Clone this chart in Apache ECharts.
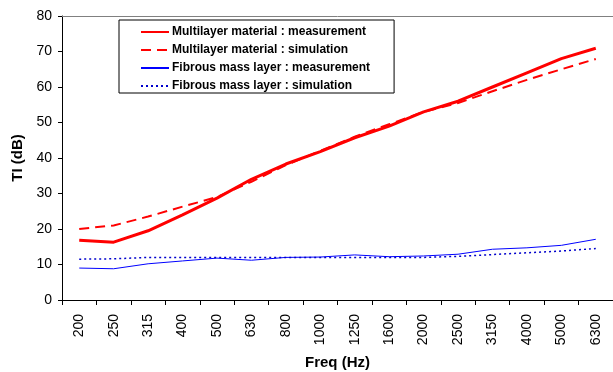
<!DOCTYPE html>
<html>
<head>
<meta charset="utf-8">
<script src="https://cdn.jsdelivr.net/npm/echarts@6/dist/echarts.min.js"></script>
<style>
  html, body { margin: 0; padding: 0; background: #fff; }
  #chart { width: 613px; height: 372px; }
</style>
</head>
<body>
<div id="chart"></div>
<script>
// frequency bands (Hz)
var freqs = ["200", "250", "315", "400", "500", "630", "800", "1000", "1250",
  "1600", "2000", "2500", "3150", "4000", "5000", "6300"];
// TI values (dB)
var multiMeas = [16.8, 16.3, 19.5, 24.0, 28.7, 34.0, 38.3, 41.8, 45.7, 49.0, 53.0, 56.0, 60.0, 64.0, 68.0, 70.9];
var multiSim = [20.0, 21.0, 23.5, 26.3, 29.0, 33.3, 38.0, 42.0, 46.0, 49.5, 53.0, 55.5, 58.8, 62.0, 65.0, 67.9];
var fibMeas = [9.0, 8.8, 10.2, 11.0, 11.8, 11.2, 12.0, 12.1, 12.7, 12.2, 12.4, 12.9, 14.3, 14.7, 15.4, 17.1];
var fibSim = [11.5, 11.6, 12.0, 12.0, 12.0, 12.0, 12.0, 12.0, 12.0, 12.0, 12.0, 12.3, 12.8, 13.3, 13.8, 14.5];
var yTicks = [0, 10, 20, 30, 40, 50, 60, 70, 80];

var font = "Arial, 'Liberation Sans', sans-serif";
var chart = echarts.init(document.getElementById("chart"));

chart.setOption({
  animation: false,
  textStyle: { fontFamily: font },
  grid: { left: 62, right: 0, top: 16, bottom: 72, outerBoundsMode: "none", containLabel: false },
  legend: {
    orient: "vertical",
    left: 119,
    top: 20,
    padding: [6, 24, 1, 21],
    itemGap: 6,
    itemWidth: 28,
    itemHeight: 14,
    borderColor: "#000",
    borderWidth: 1,
    itemStyle: { opacity: 0 },
    textStyle: { fontFamily: font, fontSize: 12, fontWeight: "bold", color: "#000", padding: [0, 0, 0, -2] },
    data: [
      "Multilayer material : measurement",
      "Multilayer material : simulation",
      "Fibrous mass layer : measurement",
      "Fibrous mass layer : simulation"
    ]
  },
  xAxis: [{
    type: "category",
    data: freqs,
    boundaryGap: true,
    name: "Freq (Hz)",
    nameLocation: "middle",
    nameGap: 55,
    nameTextStyle: { fontFamily: font, fontSize: 15, fontWeight: "bold", color: "#000" },
    axisLine: { lineStyle: { color: "#000", width: 1 } },
    axisTick: { show: true, length: 5, lineStyle: { color: "#000" } },
    axisLabel: { rotate: 90, margin: 14, fontSize: 14, color: "#000", fontFamily: font, interval: 0 }
  }, {
    type: "category",
    data: freqs,
    position: "top",
    axisLine: { lineStyle: { color: "#808080", width: 1 } },
    axisTick: { show: false },
    axisLabel: { show: false }
  }],
  yAxis: {
    type: "value",
    min: yTicks[0],
    max: yTicks[yTicks.length - 1],
    interval: 10,
    name: "TI (dB)",
    nameLocation: "middle",
    nameGap: 35,
    nameTextStyle: { fontFamily: font, fontSize: 15, fontWeight: "bold", color: "#000" },
    axisLine: { show: true, lineStyle: { color: "#000", width: 1 } },
    axisTick: { show: true, length: 4, lineStyle: { color: "#000" } },
    axisLabel: { fontSize: 14, color: "#000", margin: 10, fontFamily: font },
    splitLine: { show: false }
  },
  series: [
    {
      name: "Multilayer material : measurement",
      type: "line",
      data: multiMeas,
      symbol: "none",
      color: "#ff0000",
      lineStyle: { color: "#ff0000", width: 3 }
    },
    {
      name: "Multilayer material : simulation",
      type: "line",
      data: multiSim,
      symbol: "none",
      color: "#ff0000",
      lineStyle: { color: "#ff0000", width: 2, type: [10, 6] }
    },
    {
      name: "Fibrous mass layer : measurement",
      type: "line",
      data: fibMeas,
      symbol: "none",
      color: "#0000ff",
      lineStyle: { color: "#0000ff", width: 1 }
    },
    {
      name: "Fibrous mass layer : simulation",
      type: "line",
      data: fibSim,
      symbol: "none",
      color: "#0000cc",
      lineStyle: { color: "#0000cc", width: 1.5, type: [2, 3] }
    }
  ]
});
</script>
</body>
</html>
